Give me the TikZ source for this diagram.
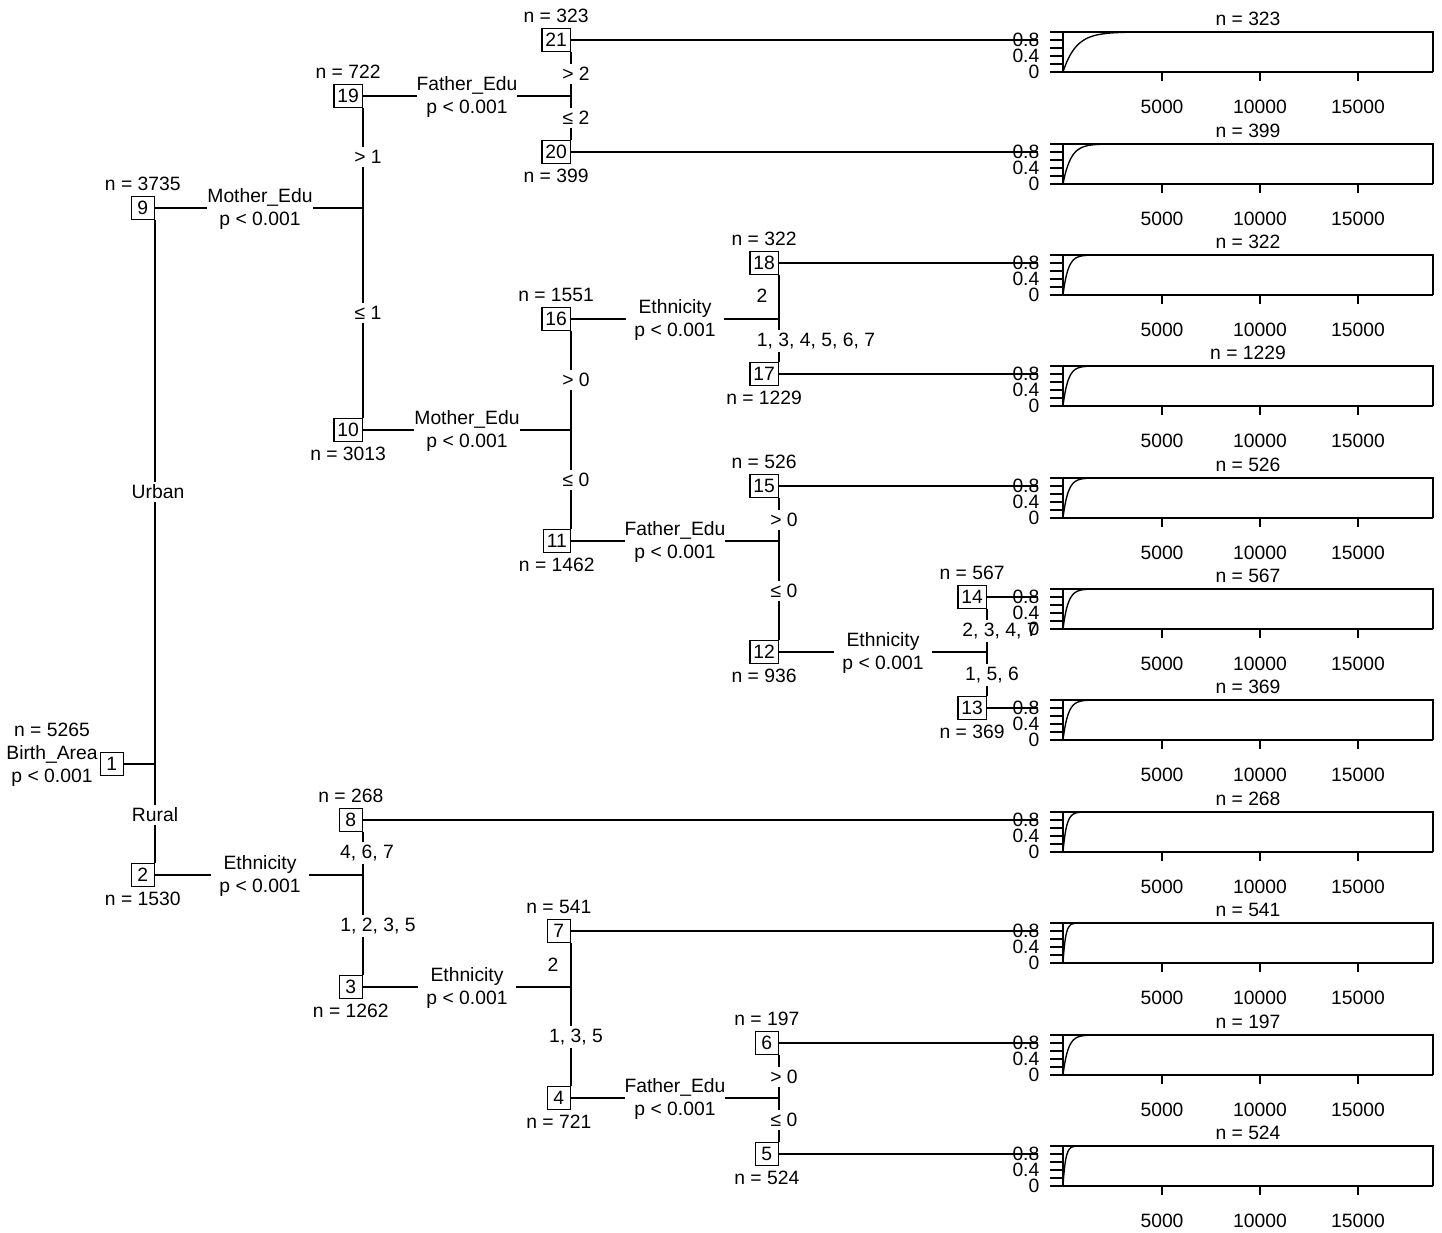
\documentclass[tikz,border=0pt]{standalone}
\usepackage{fontspec}
\setmainfont{Liberation Sans}
\begin{document}
\begin{tikzpicture}[x=1pt,y=-1pt, line width=1.35pt,
  every node/.style={font=\fontsize{19.3}{23}\selectfont},
  nbox/.style={draw, fill=white, anchor=east, minimum height=23pt, minimum width=23pt, inner xsep=3.5pt, inner ysep=2pt},
  elab/.style={fill=white, align=center, minimum width=98pt, inner xsep=0pt, inner ysep=1pt},
  slab/.style={fill=white, inner sep=3pt},
  nlab/.style={inner sep=0pt}
]
\useasboundingbox (0,0) rectangle (1442,1233);
% ---- inner and terminal nodes
\node[nbox] (n1) at (124,764) {1};
\node[nbox] (n9) at (155,208) {9};
\node[nbox] (n2) at (155,875) {2};
\node[nbox] (n19) at (363,96) {19};
\node[nbox] (n10) at (363,430) {10};
\node[nbox] (n8) at (363,820) {8};
\node[nbox] (n3) at (363,987) {3};
\node[nbox] (n21) at (571,40) {21};
\node[nbox] (n20) at (571,152) {20};
\node[nbox] (n16) at (571,319) {16};
\node[nbox] (n11) at (571,541) {11};
\node[nbox] (n7) at (571,931) {7};
\node[nbox] (n4) at (571,1098) {4};
\node[nbox] (n18) at (779,263) {18};
\node[nbox] (n17) at (779,374) {17};
\node[nbox] (n15) at (779,486) {15};
\node[nbox] (n12) at (779,652) {12};
\node[nbox] (n6) at (779,1043) {6};
\node[nbox] (n5) at (779,1154) {5};
\node[nbox] (n14) at (987,597) {14};
\node[nbox] (n13) at (987,708) {13};
% ---- panel ends of connectors
\foreach \nm/\yy in {21/40,20/152,18/263,17/374,15/486,14/597,13/708,8/820,7/931,6/1043,5/1154}
  \coordinate (p\nm) at (1038,\yy);
% ---- connectors
\draw (n1.east) -- (n1.east -| n9.east);
\draw (n9.south east) -- (n2.north east);
\draw (n9.east) -- (n9.east -| n19.east);
\draw (n19.south east) -- (n10.north east);
\draw (n19.east) -- (n19.east -| n21.east);
\draw (n21.south east) -- (n20.north east);
\draw (n21.east) -- (p21);
\draw (n20.east) -- (p20);
\draw (n10.east) -- (n10.east -| n16.east);
\draw (n16.south east) -- (n11.north east);
\draw (n16.east) -- (n16.east -| n18.east);
\draw (n18.south east) -- (n17.north east);
\draw (n18.east) -- (p18);
\draw (n17.east) -- (p17);
\draw (n11.east) -- (n11.east -| n15.east);
\draw (n15.south east) -- (n12.north east);
\draw (n15.east) -- (p15);
\draw (n12.east) -- (n12.east -| n14.east);
\draw (n14.south east) -- (n13.north east);
\draw (n14.east) -- (p14);
\draw (n13.east) -- (p13);
\draw (n2.east) -- (n2.east -| n8.east);
\draw (n8.south east) -- (n3.north east);
\draw (n8.east) -- (p8);
\draw (n3.east) -- (n3.east -| n7.east);
\draw (n7.south east) -- (n4.north east);
\draw (n7.east) -- (p7);
\draw (n4.east) -- (n4.east -| n6.east);
\draw (n6.south east) -- (n5.north east);
\draw (n6.east) -- (p6);
\draw (n5.east) -- (p5);
% ---- split variable labels
\node[elab] (e9) at (260,209) {Mother\_Edu\\p < 0.001};
\node[elab] (e19) at (467,97) {Father\_Edu\\p < 0.001};
\node[elab] (e10) at (467,431) {Mother\_Edu\\p < 0.001};
\node[elab] (e16) at (675,320) {Ethnicity\\p < 0.001};
\node[elab] (e11) at (675,542) {Father\_Edu\\p < 0.001};
\node[elab] (e12) at (883,653) {Ethnicity\\p < 0.001};
\node[elab] (e2) at (260,876) {Ethnicity\\p < 0.001};
\node[elab] (e3) at (467,988) {Ethnicity\\p < 0.001};
\node[elab] (e4) at (675,1099) {Father\_Edu\\p < 0.001};
\node[align=center, inner sep=0pt] (e1) at (52,755) {n = 5265\\Birth\_Area\\p < 0.001};
% ---- split point labels
\node[slab] (s1a) at (158,492) {Urban};
\node[slab] (s1b) at (155,815) {Rural};
\node[slab] (s9a) at (368,157) {> 1};
\node[slab] (s9b) at (368,313) {≤ 1};
\node[slab] (s19a) at (576,74) {> 2};
\node[slab] (s19b) at (576,118) {≤ 2};
\node[slab] (s10a) at (576,380) {> 0};
\node[slab] (s10b) at (576,480) {≤ 0};
\node[slab] (s16a) at (762,296) {2};
\node[slab] (s16b) at (816,341) {1, 3, 4, 5, 6, 7};
\node[slab] (s11a) at (784,520) {> 0};
\node[slab] (s11b) at (784,591) {≤ 0};
\node[slab] (s12a) at (1000,631) {2, 3, 4, 7};
\node[slab] (s12b) at (992,675) {1, 5, 6};
\node[slab] (s2a) at (367,853) {4, 6, 7};
\node[slab] (s2b) at (378,926) {1, 2, 3, 5};
\node[slab] (s3a) at (553,965) {2};
\node[slab] (s3b) at (576,1037) {1, 3, 5};
\node[slab] (s4a) at (784,1077) {> 0};
\node[slab] (s4b) at (784,1120) {≤ 0};
% ---- node sizes
\path (n9.north) ++(0,-12) node[nlab] {n = 3735};
\path (n2.south) ++(0,12) node[nlab] {n = 1530};
\path (n19.north) ++(0,-12) node[nlab] {n = 722};
\path (n10.south) ++(0,12) node[nlab] {n = 3013};
\path (n8.north) ++(0,-12) node[nlab] {n = 268};
\path (n3.south) ++(0,12) node[nlab] {n = 1262};
\path (n21.north) ++(0,-12) node[nlab] {n = 323};
\path (n20.south) ++(0,12) node[nlab] {n = 399};
\path (n16.north) ++(0,-12) node[nlab] {n = 1551};
\path (n11.south) ++(0,12) node[nlab] {n = 1462};
\path (n7.north) ++(0,-12) node[nlab] {n = 541};
\path (n4.south) ++(0,12) node[nlab] {n = 721};
\path (n18.north) ++(0,-12) node[nlab] {n = 322};
\path (n17.south) ++(0,12) node[nlab] {n = 1229};
\path (n15.north) ++(0,-12) node[nlab] {n = 526};
\path (n12.south) ++(0,12) node[nlab] {n = 936};
\path (n6.north) ++(0,-12) node[nlab] {n = 197};
\path (n5.south) ++(0,12) node[nlab] {n = 524};
\path (n14.north) ++(0,-12) node[nlab] {n = 567};
\path (n13.south) ++(0,12) node[nlab] {n = 369};
% ---- terminal panels
\foreach \t/\nn/\ta/\cl in {32/323/13/90, 144/399/7.7/85, 255/322/5/50, 366/1229/5/45, 478/526/5/45, 589/567/5/45, 700/369/5/45, 812/268/3.5/35, 923/541/2.5/20, 1035/197/5/45, 1146/524/2.5/20} {
  \draw (1063,{\t+40}) -- (1063,\t) -- (1433,\t) -- (1433,{\t+40});
  \draw (1050,{\t+40}) -- (1433,{\t+40});
  \foreach \k in {0,8,16,24,32}
    \draw (1050,{\t+\k}) -- (1063,{\t+\k});
  \foreach \xx/\lab in {1162/5000,1260/10000,1358/15000} {
    \draw (\xx,{\t+40}) -- (\xx,{\t+49});
    \node[nlab] at (\xx,{\t+75}) {\lab};
  }
  \node[nlab] at (1248,{\t-13}) {n = \nn};
  \node[nlab, anchor=east] at (1040,{\t+8}) {0.8};
  \node[nlab, anchor=east] at (1040,{\t+24}) {0.4};
  \node[nlab, anchor=east] at (1040,{\t+40}) {0};
  \draw[line join=round] plot[domain=0:\cl, samples=70, smooth] ({1063+\x},{\t+40*exp(-\x/\ta)});
}
\end{tikzpicture}
\end{document}
